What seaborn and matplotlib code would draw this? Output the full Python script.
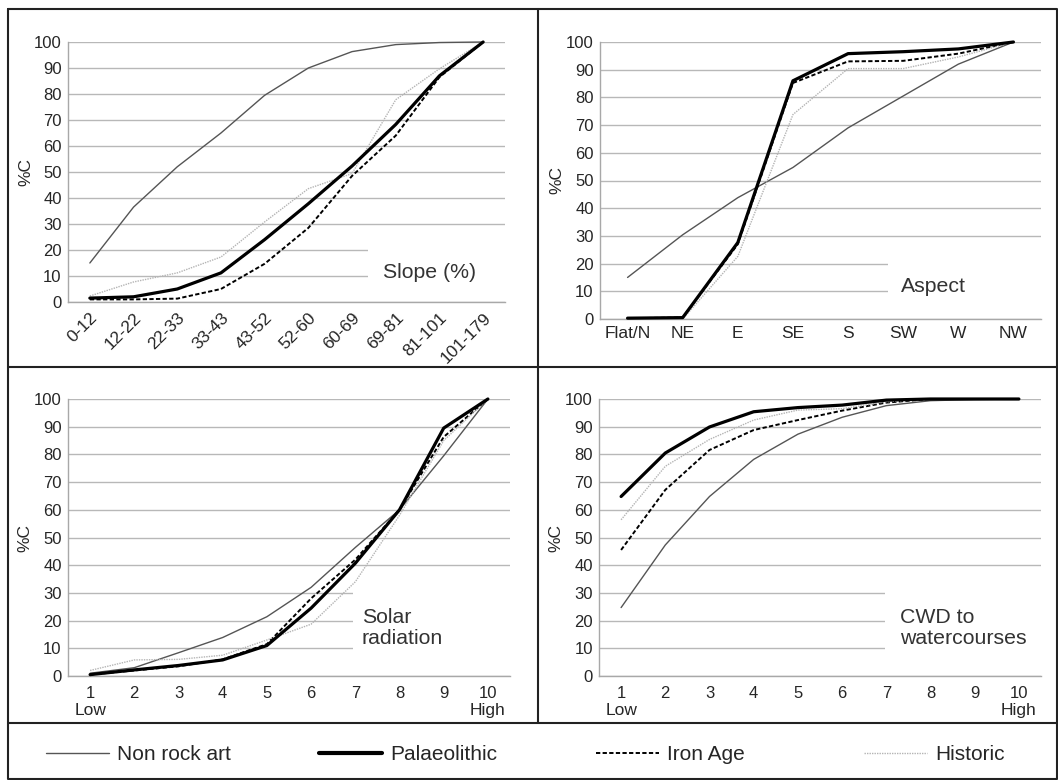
import numpy as np
import pandas as pd
import matplotlib.pyplot as plt
import matplotlib.transforms as mtransforms
from matplotlib.patches import Rectangle
from matplotlib.lines import Line2D
import seaborn as sns

# --- categories ---
slope_cats = ['0-12', '12-22', '22-33', '33-43', '43-52', '52-60', '60-69', '69-81', '81-101', '101-179']
aspect_cats = ['Flat/N', 'NE', 'E', 'SE', 'S', 'SW', 'W', 'NW']
class_cats = ['1', '2', '3', '4', '5', '6', '7', '8', '9', '10']

series_names = ['Non rock art', 'Palaeolithic', 'Iron Age', 'Historic']

# --- cumulative % values ---
slope_non = [15, 36.5, 52, 65, 79.5, 90, 96.3, 99, 99.8, 100]
slope_pal = [1.5, 2, 5, 11.2, 24, 37.8, 52.3, 68.3, 87, 100]
slope_iron = [1, 1, 1.3, 5, 14.7, 28.5, 48.5, 64, 86.5, 100]
slope_hist = [2.3, 7.7, 11.2, 17.3, 30.8, 43.6, 49.4, 77.8, 89.7, 100]

aspect_non = [15, 30.4, 43.8, 54.7, 69, 80.5, 92, 100]
aspect_pal = [0.3, 0.5, 27.6, 86, 95.8, 96.5, 97.5, 100]
aspect_iron = [0.3, 0.5, 27, 85.2, 93, 93.2, 95.8, 100]
aspect_hist = [0, 0, 22.6, 73.8, 90.4, 90.4, 94.6, 100]

solar_non = [1, 3, 8.4, 13.9, 21.4, 32, 46.4, 60, 79.5, 100]
solar_pal = [0.5, 2.2, 3.8, 5.8, 11, 24.5, 40.7, 60, 89.5, 100]
solar_iron = [0.5, 2, 3.5, 6, 11.5, 28, 42, 60, 86.3, 100]
solar_hist = [2, 5.8, 6, 7.5, 13, 18.7, 34, 58, 85, 100]

cwd_non = [24.7, 47.3, 64.8, 78.2, 87.3, 93.4, 97.6, 99.4, 99.8, 100]
cwd_pal = [64.8, 80.5, 89.9, 95.4, 96.9, 97.8, 99.6, 100, 100, 100]
cwd_iron = [45.5, 67.2, 81.6, 88.8, 92.4, 95.8, 98.7, 100, 100, 100]
cwd_hist = [56.4, 75.7, 85.4, 92.4, 96, 96.5, 99, 100, 100, 100]

styles = {
    'Non rock art': dict(color='#555555', lw=1.0, ls='-'),
    'Palaeolithic': dict(color='black', lw=2.3, ls='-'),
    'Iron Age': dict(color='black', lw=1.4, ls=(0, (2.2, 1.2))),
    'Historic': dict(color='#b4b4b4', lw=1.0, ls=(0, (1, 0.8))),
}

sns.set_style('white')
plt.rcParams['font.family'] = ['Liberation Sans', 'DejaVu Sans']

W, H = 1058, 780
fig = plt.figure(figsize=(W / 100, H / 100), dpi=100)
AXIS_GRAY = '#a8a8a8'


def px_axes(x0, y0, x1, y1):
    return fig.add_axes([x0 / W, 1 - y1 / H, (x1 - x0) / W, (y1 - y0) / H])


def draw_panel(ax, cats, values, label, lab_x, lab_y, ha, box_x, box_top):
    n = len(cats)
    frames = []
    for name, vals in zip(series_names, values):
        frames.append(pd.DataFrame({'pos': np.arange(n), 'pct': vals, 'series': name}))
    df = pd.concat(frames)
    for name in series_names:
        st = styles[name]
        sns.lineplot(data=df[df.series == name], x='pos', y='pct', ax=ax,
                     color=st['color'], lw=st['lw'], linestyle=st['ls'],
                     zorder=3 if name == 'Palaeolithic' else 2)
    for ln in ax.lines:
        ln.set_clip_on(False)
    ax.set_xlim(-0.5, n - 0.5)
    ax.set_ylim(0, 100)
    ax.set_yticks(range(0, 101, 10))
    ax.set_xticks(np.arange(n))
    ax.set_xticks(np.arange(-0.5, n, 1), minor=True)
    ax.tick_params(axis='y', length=2.5, width=1, color=AXIS_GRAY, labelsize=12, pad=2)
    ax.tick_params(axis='x', which='major', length=0)
    ax.tick_params(axis='x', which='minor', length=3.5, color=AXIS_GRAY, width=1)
    ax.set_axisbelow(True)
    ax.yaxis.grid(True, color='#b8b8b8', lw=1)
    ax.xaxis.grid(False)
    for s in ['top', 'right']:
        ax.spines[s].set_visible(False)
    for s in ['left', 'bottom']:
        ax.spines[s].set_color(AXIS_GRAY)
        ax.spines[s].set_linewidth(1)
    ax.set_xlabel('')
    ax.set_ylabel('%C', fontsize=12.5)
    ax.yaxis.set_label_coords(-0.08, 0.5)
    tr = mtransforms.blended_transform_factory(ax.transAxes, ax.transData)
    ax.add_patch(Rectangle((box_x, 5), 1.02 - box_x, box_top - 5, transform=tr,
                           facecolor='white', edgecolor='none', zorder=1))
    ax.text(lab_x, lab_y, label, transform=tr, fontsize=15.3, ha=ha, va='center',
            color='#333333', linespacing=1.1)


# top left: slope
ax1 = px_axes(68, 42, 505, 302)
draw_panel(ax1, slope_cats, [slope_non, slope_pal, slope_iron, slope_hist],
           'Slope (%)', 0.828, 11.2, 'center', 0.686, 25)
ax1.set_xticklabels(slope_cats, rotation=45, ha='right', rotation_mode='anchor', fontsize=12.5)
ax1.tick_params(axis='x', which='major', pad=6)

# top right: aspect
ax2 = px_axes(600, 42, 1041, 319)
draw_panel(ax2, aspect_cats, [aspect_non, aspect_pal, aspect_iron, aspect_hist],
           'Aspect', 0.757, 11.6, 'center', 0.653, 25)
ax2.set_xticklabels(aspect_cats, fontsize=12.5)
ax2.tick_params(axis='x', which='major', pad=5)

# bottom left: solar radiation
ax3 = px_axes(68, 399, 510, 676)
draw_panel(ax3, class_cats, [solar_non, solar_pal, solar_iron, solar_hist],
           'Solar\nradiation', 0.665, 17.3, 'left', 0.645, 35)

# bottom right: CWD
ax4 = px_axes(599, 399, 1041, 676)
draw_panel(ax4, class_cats, [cwd_non, cwd_pal, cwd_iron, cwd_hist],
           'CWD to\nwatercourses', 0.681, 17.3, 'left', 0.647, 35)

for ax in (ax3, ax4):
    ax.set_xticklabels(class_cats, fontsize=12)
    ax.tick_params(axis='x', which='major', pad=7)
    ax.text(0, -0.125, 'Low', transform=ax.get_xaxis_transform(), ha='center', va='center',
            fontsize=12.5)
    ax.text(len(class_cats) - 1, -0.125, 'High', transform=ax.get_xaxis_transform(), ha='center',
            va='center', fontsize=12.5)


# frame and dividers
def fig_line(xs, ys, lw=1.5):
    fig.add_artist(Line2D([x / W for x in xs], [1 - y / H for y in ys],
                          color='#222222', lw=lw, transform=fig.transFigure))


fig_line([7.5, 1057, 1057, 7.5, 7.5], [8.5, 8.5, 779, 779, 8.5])
fig_line([7.5, 1057], [367, 367])
fig_line([7.5, 1057], [723, 723])
fig_line([538, 538], [8.5, 723])

# legend: one entry per slot along the bottom strip
legend_left = [46, 319, 596, 864]
for name, x0 in zip(series_names, legend_left):
    st = styles[name]
    h = Line2D([], [], color=st['color'], lw=st['lw'] + 0.7 * (name == 'Palaeolithic'),
               linestyle=st['ls'])
    leg = fig.legend([h], [name], loc='center left', bbox_to_anchor=(x0 / W, 1 - 755 / H),
                     frameon=False, handlelength=3.0, handletextpad=0.4,
                     borderpad=0, borderaxespad=0, prop={'size': 15})

fig.savefig('out.png', dpi=100)
